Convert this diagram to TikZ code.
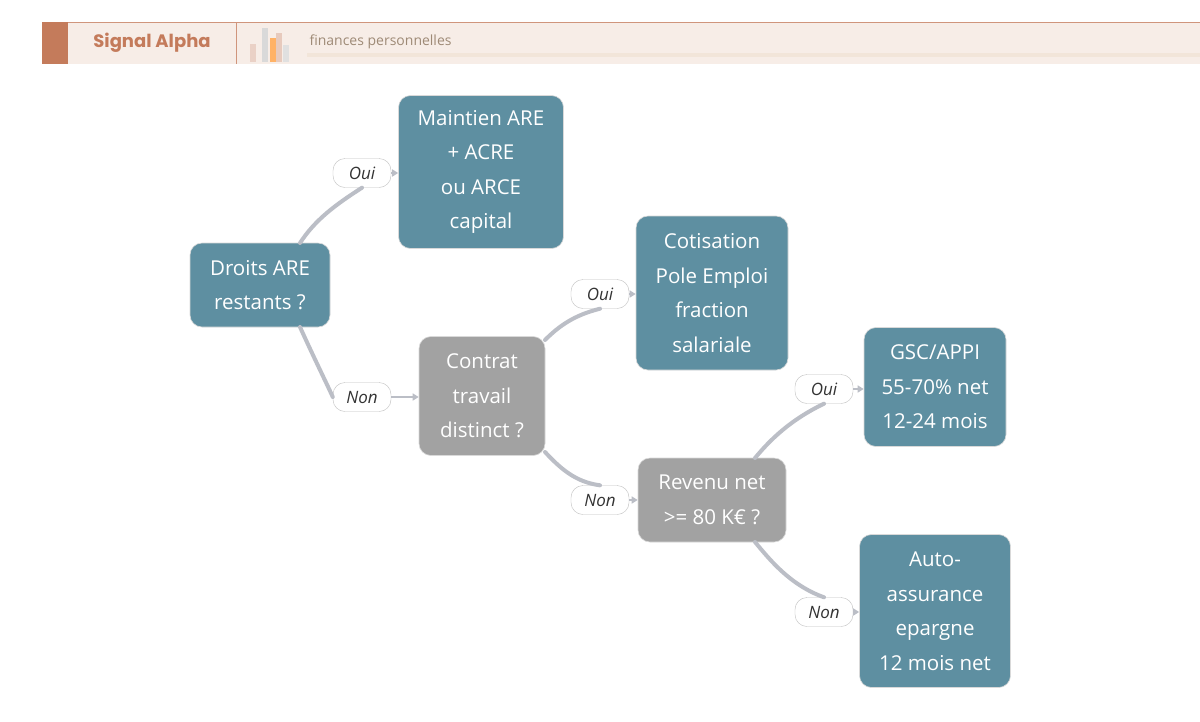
\documentclass[tikz,border=0pt]{standalone}
\usepackage{fontspec}
\setmainfont{Open Sans}
\newfontfamily\pop{Poppins}
\usetikzlibrary{arrows.meta}
\definecolor{teal}{HTML}{5E8FA1}
\definecolor{grey}{HTML}{A2A2A2}
\definecolor{edge}{HTML}{BBBEC6}
\definecolor{band}{HTML}{F7EDE7}
\definecolor{rust}{HTML}{C47B5B}
\begin{document}
\begin{tikzpicture}[x=1pt,y=-1pt,
 box/.style={rounded corners=12pt,draw=white!85!black,line width=0.6pt,text=white,align=center,font=\fontsize{20.5}{34.5}\selectfont,inner sep=0pt},
 dec/.style={box,fill=grey},
 leaf/.style={box,fill=teal},
 lab/.style={draw=black!25,fill=white,rounded corners=12pt,minimum width=58pt,minimum height=29pt,font=\itshape\fontsize{17}{17}\selectfont,text=black!80,inner sep=0pt},
 con/.style={edge,line width=4pt,line cap=round},
 arr/.style={edge,line width=2.5pt,-{Triangle[length=6pt,width=7pt]}}]
\useasboundingbox (0,0) rectangle (1200,721);
\fill[white] (0,0) rectangle (1200,721);
% header
\fill[band] (42,22) rectangle (1200,64);
\draw[rust!80,line width=0.8pt] (42,22) -- (1200,22);
\fill[rust] (42,22) rectangle (68,64);
\draw[rust!80,line width=0.8pt] (236,22) -- (236,64);
\node[font=\pop\bfseries\fontsize{18}{18}\selectfont,text=rust] (brand) at (152,43) {Signal Alpha};
\fill[rust!35] (250,44) rectangle (256,62);
\fill[black!15] (262,28) rectangle (268,62);
\fill[orange!60] (270,38) rectangle (276,62);
\fill[rust!40] (276,33) rectangle (282,62);
\fill[black!12] (283,45) rectangle (289,62);
\node[anchor=west,font=\fontsize{14}{14}\selectfont,text=brown!45!white!70!black] (sub) at (306,42) {finances personnelles};
\fill[brown!20] (307,53) rectangle (1200,57);
% nodes
\node[leaf,minimum width=140pt,minimum height=84pt] (droits) at (260,285) {Droits ARE\\restants ?};
\node[leaf,minimum width=165pt,minimum height=153pt] (maint) at (481,172) {Maintien ARE\\+ ACRE\\ou ARCE\\capital};
\node[dec,minimum width=126pt,minimum height=119pt] (contrat) at (482,396) {Contrat\\travail\\distinct ?};
\node[leaf,minimum width=152pt,minimum height=154pt] (cotis) at (712,293) {Cotisation\\Pole Emploi\\fraction\\salariale};
\node[dec,minimum width=148pt,minimum height=84pt] (rev) at (712,500) {Revenu net\\>= 80 K€ ?};
\node[leaf,minimum width=142pt,minimum height=119pt] (gsc) at (935,387) {GSC/APPI\\55-70\% net\\12-24 mois};
\node[leaf,minimum width=151pt,minimum height=153pt] (auto) at (935,611) {Auto-\\assurance\\epargne\\12 mois net};
% labels
\node[lab] (l1) at (362,173) {Oui};
\node[lab] (l2) at (362,397) {Non};
\node[lab] (l3) at (600,294) {Oui};
\node[lab] (l4) at (600,500) {Non};
\node[lab] (l5) at (824,389) {Oui};
\node[lab] (l6) at (824,612) {Non};
% connectors
\draw[con] (300,243) .. controls (315,220) and (335,205) .. (l1.south);
\draw[con] (300,327) .. controls (315,360) and (325,380) .. (l2.west);
\draw[con] (545,340) .. controls (560,325) and (575,315) .. (l3.south);
\draw[con] (545,452) .. controls (560,468) and (575,482) .. (l4.north);
\draw[con] (755,458) .. controls (770,440) and (790,420) .. (l5.south);
\draw[con] (755,542) .. controls (770,560) and (790,585) .. (l6.north);
\draw[arr] (l1.east) -- (maint.west|-l1.east);
\draw[arr] (l2.east) -- (contrat.west|-l2.east);
\draw[arr] (l3.east) -- (cotis.west|-l3.east);
\draw[arr] (l4.east) -- (rev.west|-l4.east);
\draw[arr] (l5.east) -- (gsc.west|-l5.east);
\draw[arr] (l6.east) -- (auto.west|-l6.east);
\end{tikzpicture}
\end{document}
